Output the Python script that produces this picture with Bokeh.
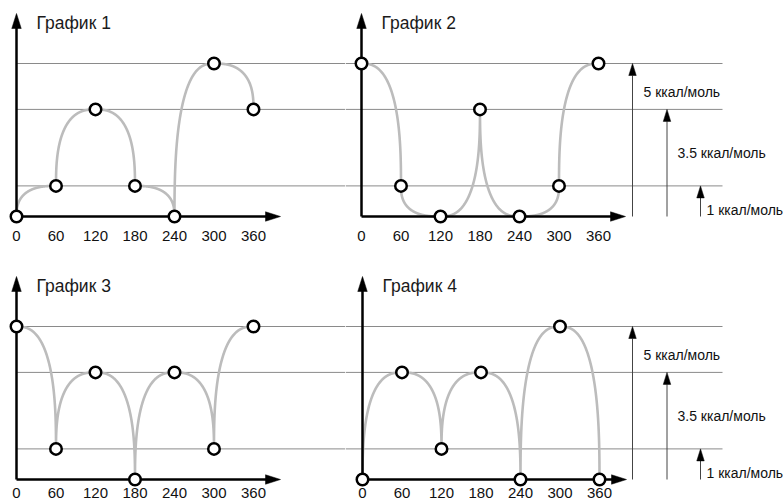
import numpy as np
from bokeh.plotting import figure
from bokeh.layouts import row, column
from bokeh.models import Range1d
from bokeh.embed import file_html
from bokeh.resources import INLINE
from bokeh.core.properties import value

# ---------------- data ----------------
angles = [0, 60, 120, 180, 240, 300, 360]
tick_labels = ["0", "60", "120", "180", "240", "300", "360"]
energy_1 = [0, 1, 3.5, 1, 0, 5, 3.5]
energy_2 = [5, 1, 0, 3.5, 0, 1, 5]
energy_3 = [5, 1, 3.5, 0, 3.5, 1, 5]
energy_4 = [0, 3.5, 1, 3.5, 0, 5, 0]
titles = ["График 1", "График 2", "График 3", "График 4"]
levels = [1, 3.5, 5]
level_labels = ["1 ккал/моль", "3.5 ккал/моль", "5 ккал/моль"]

# curve style of each segment between neighbouring points
shape_1 = ["convex"] * 6
shape_2 = ["convex", "concave", "concave", "concave", "concave", "convex"]
shape_3 = ["convex"] * 6
shape_4 = ["convex"] * 6

# ---------------- layout (px) ----------------
DX = 0.6583      # px per degree
KY = 30.6        # px per kcal/mol
W_LEFT, W_RIGHT = 345, 438
H_TOP, H_BOT = 255, 246
LINE_END_RIGHT = 377          # end of level lines inside right panels (px from left)
ARROW_X = [355, 321.5, 287]   # right panels: arrow positions for levels 1, 3.5, 5 (px from left)
LABEL_X = [361, 332, 298]     # label starts
LABEL_UP = [7, 64, 125]       # label centre height above origin (px)

FONT = "Liberation Sans"
CURVE = "#bcbcbc"
LEVEL = "#8a8a8a"


def seg_curve(x1, y1, x2, y2, kind, n=2.6, m=240):
    t = np.linspace(0, np.pi / 2, m)
    c = np.cos(t) ** (2.0 / n)
    s = np.sin(t) ** (2.0 / n)
    if (y2 > y1) == (kind == "convex"):
        xs = x2 - (x2 - x1) * c
        ys = y1 + (y2 - y1) * s
    else:
        xs = x1 + (x2 - x1) * s
        ys = y2 + (y1 - y2) * c
    return xs, ys


def panel(xv, yv, shapes, title, width, height, ax, oy, is_right, lab_off):
    x0 = -ax / DX
    x1 = (width - ax) / DX
    y0 = -oy / KY
    y1 = (height - oy) / KY
    p = figure(width=width, height=height, output_backend="svg", toolbar_location=None,
               x_axis_type=None, y_axis_type=None, min_border=0,
               x_range=Range1d(x0, x1), y_range=Range1d(y0, y1))
    p.outline_line_color = None
    p.xgrid.visible = False
    p.ygrid.visible = False
    p.background_fill_color = "white"
    p.border_fill_color = "white"

    # level lines
    if is_right:
        lx0, lx1 = x0, (LINE_END_RIGHT - ax) / DX
    else:
        lx0, lx1 = 0, x1
    p.segment(x0=[lx0] * len(levels), x1=[lx1] * len(levels), y0=levels, y1=levels,
              line_color=LEVEL, line_width=1)

    # curves
    cx, cy = [], []
    for i in range(len(xv) - 1):
        sx, sy = seg_curve(xv[i], yv[i], xv[i + 1], yv[i + 1], shapes[i])
        cx.extend(sx)
        cy.extend(sy)
    p.line(cx, cy, line_color=CURVE, line_width=2.6, line_join="round", line_cap="round")

    # axes with arrow heads
    hl, hw = 15, 9.5
    ytip = 203 / KY
    xtip = 264 / DX
    p.segment(x0=[0, 0], y0=[0, 0], x1=[xtip - hl / DX + 1 / DX, 0], y1=[0, ytip - hl / KY + 1 / KY],
              line_color="black", line_width=2.5)
    p.patches(xs=[[0, -hw / 2 / DX, hw / 2 / DX], [xtip, xtip - hl / DX, xtip - hl / DX]],
              ys=[[ytip, ytip - hl / KY, ytip - hl / KY], [0, hw / 2 / KY, -hw / 2 / KY]],
              fill_color="black", line_color="black", line_width=0.5)

    # right-hand arrows with level labels
    if is_right:
        ahl, ahw = 12, 7.5
        axs = [(a - ax) / DX for a in ARROW_X]
        p.segment(x0=axs, x1=axs, y0=[0] * 3, y1=[lv - ahl / KY for lv in levels],
                  line_color="#444444", line_width=1)
        p.patches(xs=[[a, a - ahw / 2 / DX, a + ahw / 2 / DX] for a in axs],
                  ys=[[lv, lv - ahl / KY, lv - ahl / KY] for lv in levels],
                  fill_color="black", line_color="black", line_width=0.5)
        p.text(x=[(l - ax) / DX for l in LABEL_X], y=[u / KY for u in LABEL_UP], text=level_labels,
               text_font=value(FONT), text_font_size="14px", text_align="left",
               text_baseline="middle", text_color="#111111")

    # points
    p.scatter(xv, yv, size=11.5, fill_color="white", line_color="black", line_width=2.5)

    # tick labels
    p.text(x=xv, y=[-lab_off / KY] * len(xv), text=tick_labels,
           text_font=value(FONT), text_font_size="15px", text_align="center",
           text_baseline="middle", text_color="#111111")

    # title
    p.text(x=[20 / DX], y=[194 / KY], text=[title], text_font=value(FONT),
           text_font_size="17.5px", text_align="left", text_baseline="middle", text_color="#1a1a1a")
    return p


p1 = panel(angles, energy_1, shape_1, titles[0], W_LEFT, H_TOP, 16, 39, False, 19)
p2 = panel(angles, energy_2, shape_2, titles[1], W_RIGHT, H_TOP, 16, 39, True, 19)
p3 = panel(angles, energy_3, shape_3, titles[2], W_LEFT, H_BOT, 16, 22, False, 13)
p4 = panel(angles, energy_4, shape_4, titles[3], W_RIGHT, H_BOT, 17, 22, True, 13)

layout = column(row(p1, p2, spacing=0), row(p3, p4, spacing=0), spacing=0)
open("out.html", "w").write(file_html(layout, INLINE))
